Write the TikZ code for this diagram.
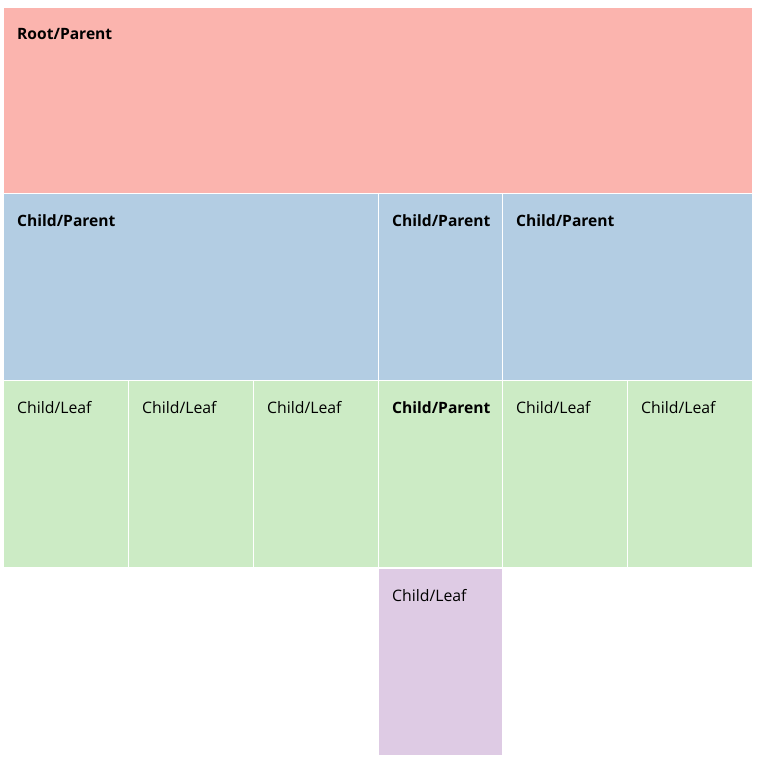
\documentclass[tikz,border=0pt]{standalone}
\usepackage{fontspec}
\setmainfont{Open Sans}
\usepackage{xcolor}
\definecolor{rootpink}{HTML}{FBB4AE}
\definecolor{parentblue}{HTML}{B3CDE3}
\definecolor{leafgreen}{HTML}{CCEBC5}
\definecolor{leafpurple}{HTML}{DECBE4}

\tikzset{
  lbl/.style={anchor=base west, inner sep=0pt, font=\fontsize{15.8}{18}\selectfont},
  lblbold/.style={lbl, font=\fontsize{15.6}{18}\selectfont\bfseries}
}

\begin{document}
\begin{tikzpicture}[x=1pt, y=-1pt] %treemap of the hierarchy
\useasboundingbox (0,0) rectangle (759,767);
% level one
\fill[rootpink] (4,8) rectangle (752,193);
\node[lblbold] (root) at (17,40) {Root/Parent};
% level two
\fill[parentblue] (4,194) rectangle (378,380);
\fill[parentblue] (379,194) rectangle (502,380);
\fill[parentblue] (503,194) rectangle (752,380);
\node[lblbold] (pa) at (17,226) {Child/Parent};
\node[lblbold] (pb) at (392,226) {Child/Parent};
\node[lblbold] (pc) at (516,226) {Child/Parent};
% level three
\fill[leafgreen] (4,381) rectangle (128,567);
\fill[leafgreen] (129,381) rectangle (253,567);
\fill[leafgreen] (254,381) rectangle (378,567);
\fill[leafgreen] (379,381) rectangle (502,567);
\fill[leafgreen] (503,381) rectangle (627,567);
\fill[leafgreen] (628,381) rectangle (752,567);
\node[lbl] (la) at (17,413) {Child/Leaf};
\node[lbl] (lb) at (142,413) {Child/Leaf};
\node[lbl] (lc) at (267,413) {Child/Leaf};
\node[lblbold] (pd) at (392,413) {Child/Parent};
\node[lbl] (ld) at (516,413) {Child/Leaf};
\node[lbl] (le) at (641,413) {Child/Leaf};
% level four
\fill[leafpurple] (379,569) rectangle (502,755);
\node[lbl] (lf) at (392,601) {Child/Leaf};
\end{tikzpicture}
\end{document}
